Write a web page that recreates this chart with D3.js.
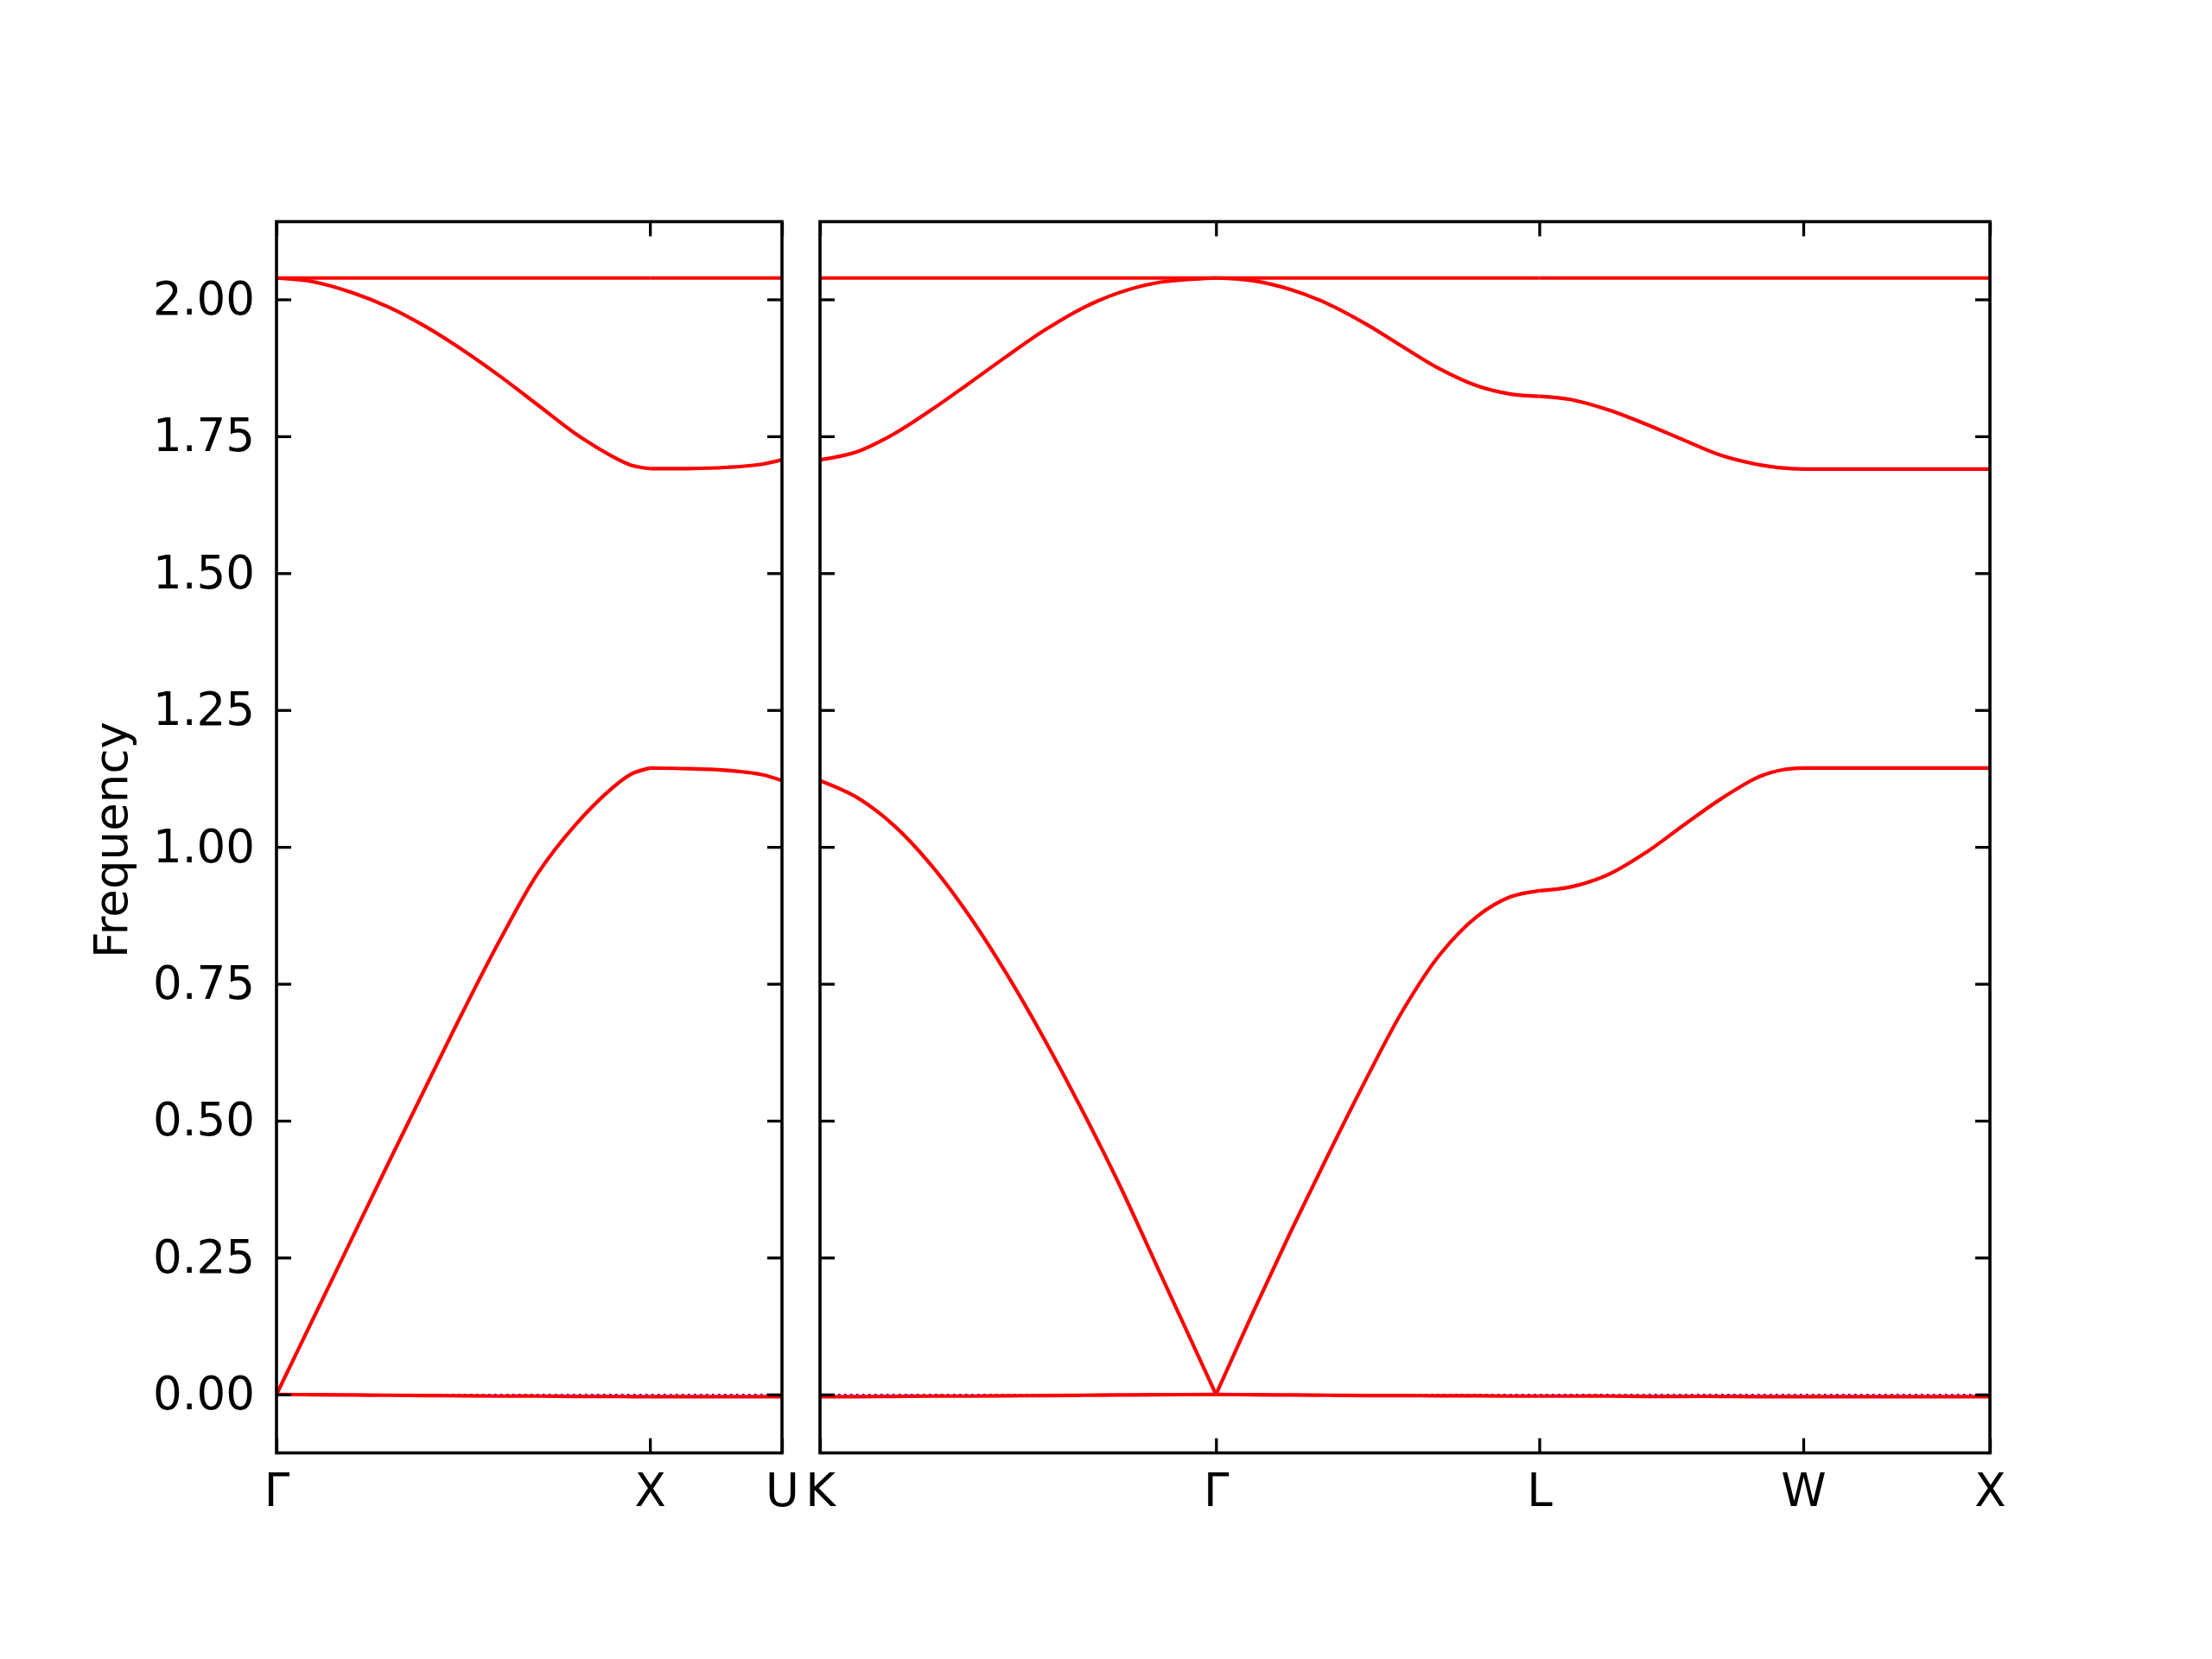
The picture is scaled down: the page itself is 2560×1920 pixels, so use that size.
<!DOCTYPE html>
<html>
<head>
<meta charset="utf-8">
<script src="https://d3js.org/d3.v7.min.js"></script>
<style>
  html, body { margin: 0; padding: 0; background: #ffffff; }
  svg { display: block; }
  text { font-family: "DejaVu Sans", sans-serif; }
</style>
</head>
<body>
<svg id="chart" width="2560" height="1920"></svg>
<script>
// ---------------- DATA ----------------
// y axis
const yTicks = [0, 0.25, 0.5, 0.75, 1.0, 1.25, 1.5, 1.75, 2.0];
const yDomain = [-0.1068, 2.142];
const yLabel = "Frequency";

// Left panel path: Γ – X – U  (path coordinate in 2π/a units)
const leftLabels = ["Γ", "X", "U"];
const leftPos = [0, 1.0, 1.3536];

// Right panel path: K – Γ – L – W – X
const rightLabels = ["K", "Γ", "L", "W", "X"];
const rightPos = [0, 1.0607, 1.9267, 2.6338, 3.1338];

// Segment Γ–X
const gxQ        = [0, 0.1, 0.2, 0.3, 0.4, 0.5, 0.6, 0.7, 0.8, 0.9, 0.95, 1.0];
const gxZero     = [0, -0.0005, -0.001, -0.0015, -0.002, -0.0025, -0.003, -0.003, -0.0035, -0.0035, -0.004, -0.004];
const gxAcoustic = [0, 0.141, 0.282, 0.423, 0.562, 0.700, 0.832, 0.952, 1.040, 1.108, 1.133, 1.144];
const gxOptical  = [2.039, 2.032, 2.013, 1.986, 1.950, 1.907, 1.859, 1.807, 1.755, 1.713, 1.697, 1.691];
const gxFlat     = [2.039, 2.039, 2.039, 2.039, 2.039, 2.039, 2.039, 2.039, 2.039, 2.039, 2.039, 2.039];

// Segment X–U
const xuQ        = [1.0, 1.1, 1.2, 1.3, 1.3536];
const xuZero     = [-0.004, -0.004, -0.004, -0.004, -0.004];
const xuAcoustic = [1.144, 1.143, 1.140, 1.132, 1.121];
const xuOptical  = [1.691, 1.691, 1.693, 1.699, 1.707];
const xuFlat     = [2.039, 2.039, 2.039, 2.039, 2.039];

// Segment K–Γ
const kgQ        = [0, 0.1, 0.2, 0.3, 0.4, 0.5, 0.6, 0.7, 0.8, 0.9, 1.0607];
const kgZero     = [-0.004, -0.004, -0.0035, -0.003, -0.003, -0.0025, -0.002, -0.0015, -0.001, -0.0005, 0];
const kgAcoustic = [1.121, 1.090, 1.038, 0.965, 0.874, 0.768, 0.650, 0.522, 0.386, 0.238, 0];
const kgOptical  = [1.707, 1.722, 1.755, 1.799, 1.847, 1.896, 1.943, 1.983, 2.012, 2.030, 2.039];
const kgFlat     = [2.039, 2.039, 2.039, 2.039, 2.039, 2.039, 2.039, 2.039, 2.039, 2.039, 2.039];

// Segment Γ–L
const glQ        = [1.0607, 1.16, 1.26, 1.36, 1.46, 1.56, 1.66, 1.76, 1.85, 1.9267];
const glZero     = [0, -0.0005, -0.001, -0.0015, -0.002, -0.002, -0.0025, -0.0025, -0.003, -0.003];
const glAcoustic = [0, 0.150, 0.296, 0.436, 0.572, 0.700, 0.803, 0.873, 0.909, 0.920];
const glOptical  = [2.039, 2.034, 2.018, 1.992, 1.956, 1.914, 1.873, 1.842, 1.827, 1.823];
const glFlat     = [2.039, 2.039, 2.039, 2.039, 2.039, 2.039, 2.039, 2.039, 2.039, 2.039];

// Segment L–W
const lwQ        = [1.9267, 2.012, 2.113, 2.213, 2.314, 2.414, 2.515, 2.58, 2.6338];
const lwZero     = [-0.003, -0.003, -0.003, -0.0035, -0.0035, -0.0035, -0.004, -0.004, -0.004];
const lwAcoustic = [0.920, 0.927, 0.950, 0.990, 1.040, 1.088, 1.128, 1.141, 1.144];
const lwOptical  = [1.823, 1.817, 1.798, 1.772, 1.743, 1.715, 1.698, 1.692, 1.690];
const lwFlat     = [2.039, 2.039, 2.039, 2.039, 2.039, 2.039, 2.039, 2.039, 2.039];

// Segment W–X
const wxQ        = [2.6338, 3.1338];
const wxZero     = [-0.004, -0.004];
const wxAcoustic = [1.144, 1.144];
const wxOptical  = [1.690, 1.690];
const wxFlat     = [2.039, 2.039];

// ---------------- LAYOUT ----------------
const svg = d3.select("#chart");
const plotTop = 256.5, plotBottom = 1681.5;
const leftPanel  = { x0: 320, x1: 905 };
const rightPanel = { x0: 949, x1: 2303 };
const tickLen = 17;
const fontSize = 53;

svg.append("rect").attr("width", 2560).attr("height", 1920).attr("fill", "#ffffff");

const y = d3.scaleLinear().domain(yDomain).range([plotBottom, plotTop]);
const xL = d3.scaleLinear().domain([leftPos[0], leftPos[leftPos.length - 1]]).range([leftPanel.x0, leftPanel.x1]);
const xR = d3.scaleLinear().domain([rightPos[0], rightPos[rightPos.length - 1]]).range([rightPanel.x0, rightPanel.x1]);

const panels = [
  { x: xL, pos: leftPos, labels: leftLabels, yLabels: true,
    segments: [
      { q: gxQ, bands: [gxZero, gxAcoustic, gxOptical, gxFlat] },
      { q: xuQ, bands: [xuZero, xuAcoustic, xuOptical, xuFlat] }
    ] },
  { x: xR, pos: rightPos, labels: rightLabels, yLabels: false,
    segments: [
      { q: kgQ, bands: [kgZero, kgAcoustic, kgOptical, kgFlat] },
      { q: glQ, bands: [glZero, glAcoustic, glOptical, glFlat] },
      { q: lwQ, bands: [lwZero, lwAcoustic, lwOptical, lwFlat] },
      { q: wxQ, bands: [wxZero, wxAcoustic, wxOptical, wxFlat] }
    ] }
];

panels.forEach((p, pi) => {
  const g = svg.append("g");
  const [x0, x1] = p.x.range();
  const clipId = "clip" + pi;
  svg.append("clipPath").attr("id", clipId)
    .append("rect").attr("x", x0).attr("y", plotTop).attr("width", x1 - x0).attr("height", plotBottom - plotTop);

  const plot = g.append("g").attr("clip-path", `url(#${clipId})`);

  // blue dotted zero reference
  plot.append("line")
    .attr("x1", x0).attr("x2", x1)
    .attr("y1", y(0)).attr("y2", y(0))
    .attr("stroke", "#0000ff").attr("stroke-width", 1.6)
    .attr("stroke-dasharray", "2.5,4.5");

  const line = d3.line()
    .x(d => p.x(d[0]))
    .y(d => y(d[1]))
    .curve(d3.curveCatmullRom.alpha(0.5));

  p.segments.forEach(seg => {
    seg.bands.forEach(vals => {
      const pts = seg.q.map((q, i) => [q, vals[i]]);
      plot.append("path")
        .attr("d", line(pts))
        .attr("fill", "none")
        .attr("stroke", "#ff0000")
        .attr("stroke-width", 4.2)
        .attr("stroke-linejoin", "round")
        .attr("stroke-linecap", "butt");
    });
  });

  // y axes (ticks inward)
  const yl = g.append("g").attr("transform", `translate(${x0},0)`)
    .call(d3.axisLeft(y).tickValues(yTicks)
      .tickFormat(p.yLabels ? d3.format(".2f") : "")
      .tickSize(-tickLen).tickPadding(25));
  const yr = g.append("g").attr("transform", `translate(${x1},0)`)
    .call(d3.axisRight(y).tickValues(yTicks).tickFormat("")
      .tickSize(-tickLen));
  // x axes
  const xb = g.append("g").attr("transform", `translate(0,${plotBottom})`)
    .call(d3.axisBottom(p.x).tickValues(p.pos)
      .tickFormat((d, i) => p.labels[i])
      .tickSize(-tickLen).tickPadding(24));
  const xt = g.append("g").attr("transform", `translate(0,${plotTop})`)
    .call(d3.axisTop(p.x).tickValues(p.pos).tickFormat("")
      .tickSize(-tickLen));

  [yl, yr, xb, xt].forEach(a => {
    a.select(".domain").remove();
    a.selectAll(".tick line").attr("stroke", "#000").attr("stroke-width", 3.3);
    a.selectAll(".tick text").attr("fill", "#000")
      .style("font-family", "'DejaVu Sans', sans-serif")
      .style("font-size", fontSize + "px");
  });

  // spines
  g.append("rect")
    .attr("x", x0).attr("y", plotTop)
    .attr("width", x1 - x0).attr("height", plotBottom - plotTop)
    .attr("fill", "none").attr("stroke", "#000").attr("stroke-width", 3.6);
});

// y label
svg.append("text")
  .attr("transform", `translate(147,${(plotTop + plotBottom) / 2 + 3}) rotate(-90)`)
  .attr("text-anchor", "middle")
  .style("font-size", fontSize + "px")
  .attr("fill", "#000")
  .text(yLabel);
</script>
</body>
</html>
